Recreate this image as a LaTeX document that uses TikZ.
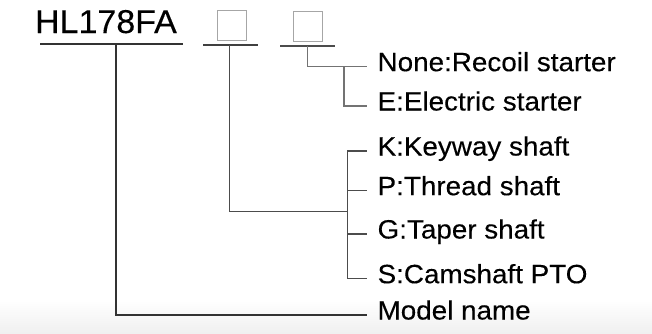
\documentclass[tikz,border=0pt]{standalone}
\usepackage{fontspec}
\setmainfont{Liberation Sans}[FakeStretch=1.05,FakeBold=0.25]
\newfontfamily\titlefont{Liberation Sans}[FakeStretch=1.03,FakeBold=0.25]
\begin{document}
\begin{tikzpicture}[x=1pt,y=-1pt,line width=1.2pt,
	lbl/.style={anchor=west,inner xsep=10.3pt,inner ysep=0pt,text height=0.9em,text depth=0pt,font=\fontsize{26.5}{31}\selectfont},
	slot/.style={draw=black!35,line width=1pt,minimum width=29.5pt,minimum height=30pt,inner sep=0pt}]
	\useasboundingbox (0,0) rectangle (652,333);
	\fill[top color=white,bottom color=black!6] (0,300) rectangle (652,333);
	\path 
	(40,44) coordinate (M1)
	(183,44) coordinate (M2)
	(116,44) coordinate (M)
	(203,45) coordinate (S1)
	(258,45) coordinate (S2)
	(229.3,45) coordinate (S)
	(280,46) coordinate (E1)
	(335,46) coordinate (E2)
	(307.7,46) coordinate (E)
	(347.7,211.7) coordinate (J)
	(344,0) coordinate (X)
	;
	\node[inner sep=0pt,anchor=base west,font=\titlefont\fontsize{33}{39}\selectfont] (model) at (34.5,33) {HL178FA};
	\node[slot] (shaftbox) at (232,25.5) {};
	\node[slot] (startbox) at (308,26.7) {};
	\foreach \n/\y/\t in {none/66.7/None:Recoil starter,elec/106/E:Electric starter,key/151/K:Keyway shaft,thr/190.7/P:Thread shaft,tap/234/G:Taper shaft,cam/278.7/S:Camshaft PTO,name/315/Model name}{
		\node[lbl] (\n) at (366.7,\y) {\t};
	}
	% model name
	\draw[black!80] (M1)--(M2);
	\draw[black!80] (M) |- (name.west);
	% shaft
	\draw[black!75] (S1)--(S2);
	\draw[black!70] (S) |- (J);
	\draw[black!70] (key.west) -| (J |- cam.west) -- (cam.west);
	\foreach \t in {thr,tap}{
		\draw[black!70] (J |- \t.west) -- (\t.west);
	}
	% starter
	\draw[black!70] (E1)--(E2);
	\draw[black!55] (E) |- (none.west);
	\draw[black!55] (X |- none.west) |- (elec.west);
\end{tikzpicture}
\end{document}
